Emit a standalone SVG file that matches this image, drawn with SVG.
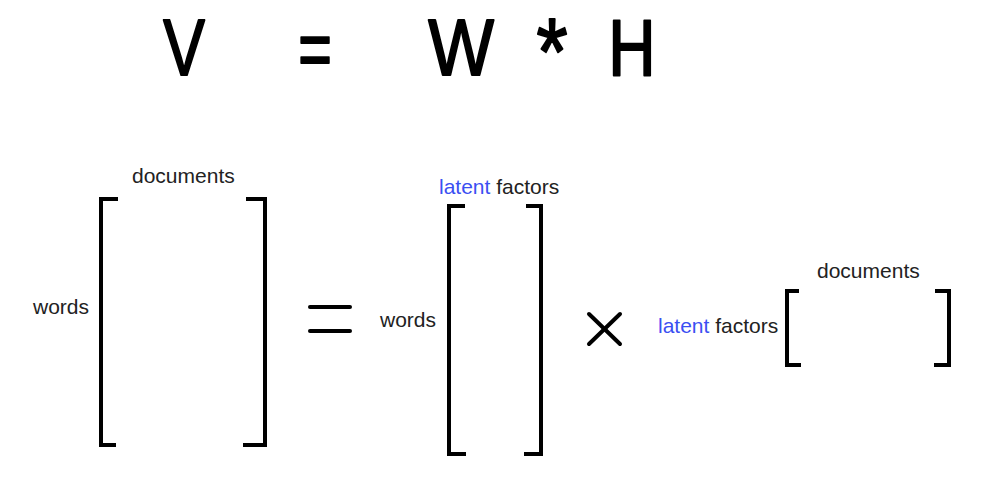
<svg xmlns="http://www.w3.org/2000/svg" width="986" height="484" viewBox="0 0 986 484">
<style>
.big{font-family:"Liberation Sans",Arial,sans-serif;font-size:80px;fill:#000;stroke:#000;stroke-width:2;stroke-linejoin:round;text-anchor:middle}
.lbl{font-family:"Liberation Sans",Arial,sans-serif;font-size:21px;fill:#222}
.blue{fill:#3b4ff2}
.br{fill:none;stroke:#000;stroke-width:4;stroke-linecap:butt;stroke-linejoin:miter}
.op{stroke:#000;stroke-width:4;stroke-linecap:round}
</style>
<rect width="986" height="484" fill="#fff"/>
<g id="formula">
<text class="big" transform="translate(184,75) scale(0.78,1)">V</text>
<text class="big" transform="translate(315,76) scale(0.72,1)">=</text>
<text class="big" transform="translate(461,75) scale(0.87,1)">W</text>
<text class="big" style="font-size:94px" transform="translate(552,84) scale(0.85,1)">*</text>
<text class="big" transform="translate(632,75) scale(0.82,1)">H</text>
</g>
<g id="matrix-V">
<path class="br" d="M118,199 H101 V445 H116"/>
<path class="br" d="M246,199 H265 V445 H243"/>
<text class="lbl" x="132" y="183">documents</text>
<text class="lbl" x="33" y="314">words</text>
</g>
<g id="equals">
<line class="op" x1="310" y1="307" x2="350" y2="307"/>
<line class="op" x1="310" y1="331" x2="350" y2="331"/>
</g>
<g id="matrix-W">
<path class="br" d="M465,206 H449 V454 H466"/>
<path class="br" d="M526,206 H541 V454 H524"/>
<text class="lbl" x="439" y="194"><tspan class="blue">latent</tspan> factors</text>
<text class="lbl" x="380" y="327">words</text>
</g>
<g id="times">
<line class="op" x1="589" y1="314" x2="620" y2="344"/>
<line class="op" x1="620" y1="314" x2="589" y2="344"/>
</g>
<g id="matrix-H">
<path class="br" d="M799,291 H787 V365 H801"/>
<path class="br" d="M935,291 H949 V365 H934"/>
<text class="lbl" x="817" y="278">documents</text>
<text class="lbl" x="658" y="333"><tspan class="blue">latent</tspan> factors</text>
</g>
<g id="connectors"/>
</svg>
